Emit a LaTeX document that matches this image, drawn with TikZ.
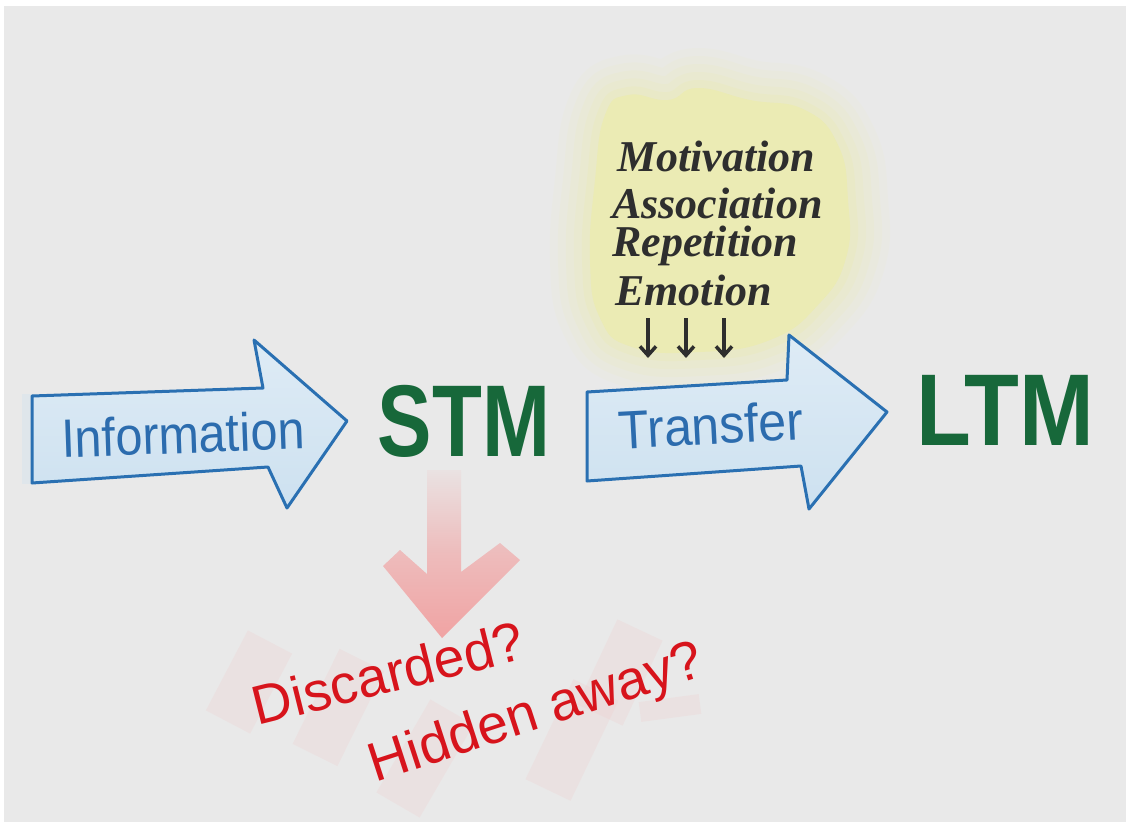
\documentclass[tikz,border=0pt]{standalone}
\usepackage{fontspec}
\setmainfont{Liberation Sans}
\newfontfamily\listfont{Liberation Serif}
\usetikzlibrary{arrows.meta}

\definecolor{paper}{HTML}{E9E9E9}
\definecolor{cloudyellow}{HTML}{EBEBB4}
\definecolor{outlineblue}{HTML}{2A70B2}
\definecolor{fillblue}{HTML}{CDE1F0}
\definecolor{textblue}{HTML}{2C6CAE}
\definecolor{memgreen}{HTML}{17683A}
\definecolor{inkred}{HTML}{D7141C}
\definecolor{softpink}{HTML}{F0A3A3}
\definecolor{stripepink}{HTML}{F2C4C4}
\definecolor{inkgray}{HTML}{2E2E2E}

\tikzset{
  bigarrow/.style={draw=outlineblue, line width=3pt, line join=round,
    top color=fillblue!65!white, bottom color=fillblue},
  bluelabel/.style={text=textblue, font=\fontsize{54}{60}\selectfont, inner sep=0pt},
  memlabel/.style={text=memgreen, font=\bfseries\fontsize{102}{110}\selectfont, inner sep=0pt},
  factor/.style={text=inkgray, font=\listfont\bfseries\itshape\fontsize{44}{48}\selectfont,
    anchor=west, inner sep=0pt},
  smallarrow/.style={draw=inkgray, line width=3.5pt,
    -{Straight Barb[length=9pt,width=16pt,line width=3.5pt]}},
  redlabel/.style={text=inkred, font=\fontsize{55}{60}\selectfont, inner sep=0pt},
  stripe/.style={draw=stripepink, line width=#1, opacity=0.2},
  stripe/.default=50pt
}

\begin{document}
\begin{tikzpicture}[x=1pt,y=-1pt]
\useasboundingbox (0,0) rectangle (1130,827);
\fill[white] (0,0) rectangle (1130,827);
\fill[paper] (4,6) rectangle (1126,822);

% soft yellow wash behind the list of factors
\def\cloudpath{plot[smooth cycle, tension=0.8] coordinates {
  (605,115) (628,95) (668,100) (698,88) (750,100) (805,110) (838,145)
  (848,200) (846,258) (818,305) (770,340) (700,352)
  (632,347) (600,318) (590,260) (595,180)}}
\foreach \w/\o in {80/0.08, 64/0.11, 48/0.15, 32/0.2, 16/0.3} {
  \draw[cloudyellow, line width=\w pt, opacity=\o, line join=round] \cloudpath;
}
\fill[cloudyellow] \cloudpath;

% faint blue wash at the tail of the first arrow
\fill[fillblue, opacity=0.35] (22,394) rectangle (36,484);

% pale diagonal strokes under the red words
\foreach \a/\b in {{(228,722)}/{(270,642)}, {(315,755)}/{(362,660)},
                   {(398,805)}/{(452,712)}, {(548,790)}/{(596,690)},
                   {(600,715)}/{(640,630)}} {
  \draw[stripe] \a -- \b;
}
\draw[stripe=20pt] (640,712) -- (700,704);

% pink arrow pointing down from STM
\path[top color=softpink!10!paper, bottom color=softpink, middle color=softpink!65!paper]
  (427,470) -- (461,470) -- (461,572) -- (500,543) -- (520,560)
  -- (442,638) -- (383,566) -- (400,550) -- (427,574) -- cycle;

% blue block arrows
\path[bigarrow] (32,396) -- (263,388) -- (254,340) -- (347,421)
  -- (287,508) -- (268,467) -- (32,483) -- cycle;
\path[bigarrow] (587,392) -- (787,380) -- (789,335) -- (887,412)
  -- (809,509) -- (801,466) -- (587,481) -- cycle;

% labels
\node[bluelabel, rotate=2] (info) at (183,434) {\scalebox{0.9}[1]{Information}};
\node[bluelabel, rotate=3] (transfer) at (711,425) {\scalebox{0.93}[1]{Transfer}};

\node[memlabel] (stm) at (464,421) {\scalebox{0.8}[1]{STM}};
\node[memlabel] (ltm) at (1005,410) {\scalebox{0.88}[1]{LTM}};

\node[factor] (motiv) at (617,156) {Motivation};
\node[factor] (assoc) at (612,203) {Association};
\node[factor] (repet) at (612,246) {Repetition};
\node[factor] (emot) at (615,290) {Emotion};

\coordinate (a1) at (648,318);
\coordinate (b1) at (648,358);
\coordinate (a2) at (686,318);
\coordinate (b2) at (686,358);
\coordinate (a3) at (724,318);
\coordinate (b3) at (724,358);
\draw[smallarrow] (a1) -- (b1);
\draw[smallarrow] (a2) -- (b2);
\draw[smallarrow] (a3) -- (b3);

\node[redlabel, rotate=14] (disc) at (388,673) {Discarded?};
\node[redlabel, rotate=18] (hidden) at (537,715) {Hidden away?};
\end{tikzpicture}
\end{document}
